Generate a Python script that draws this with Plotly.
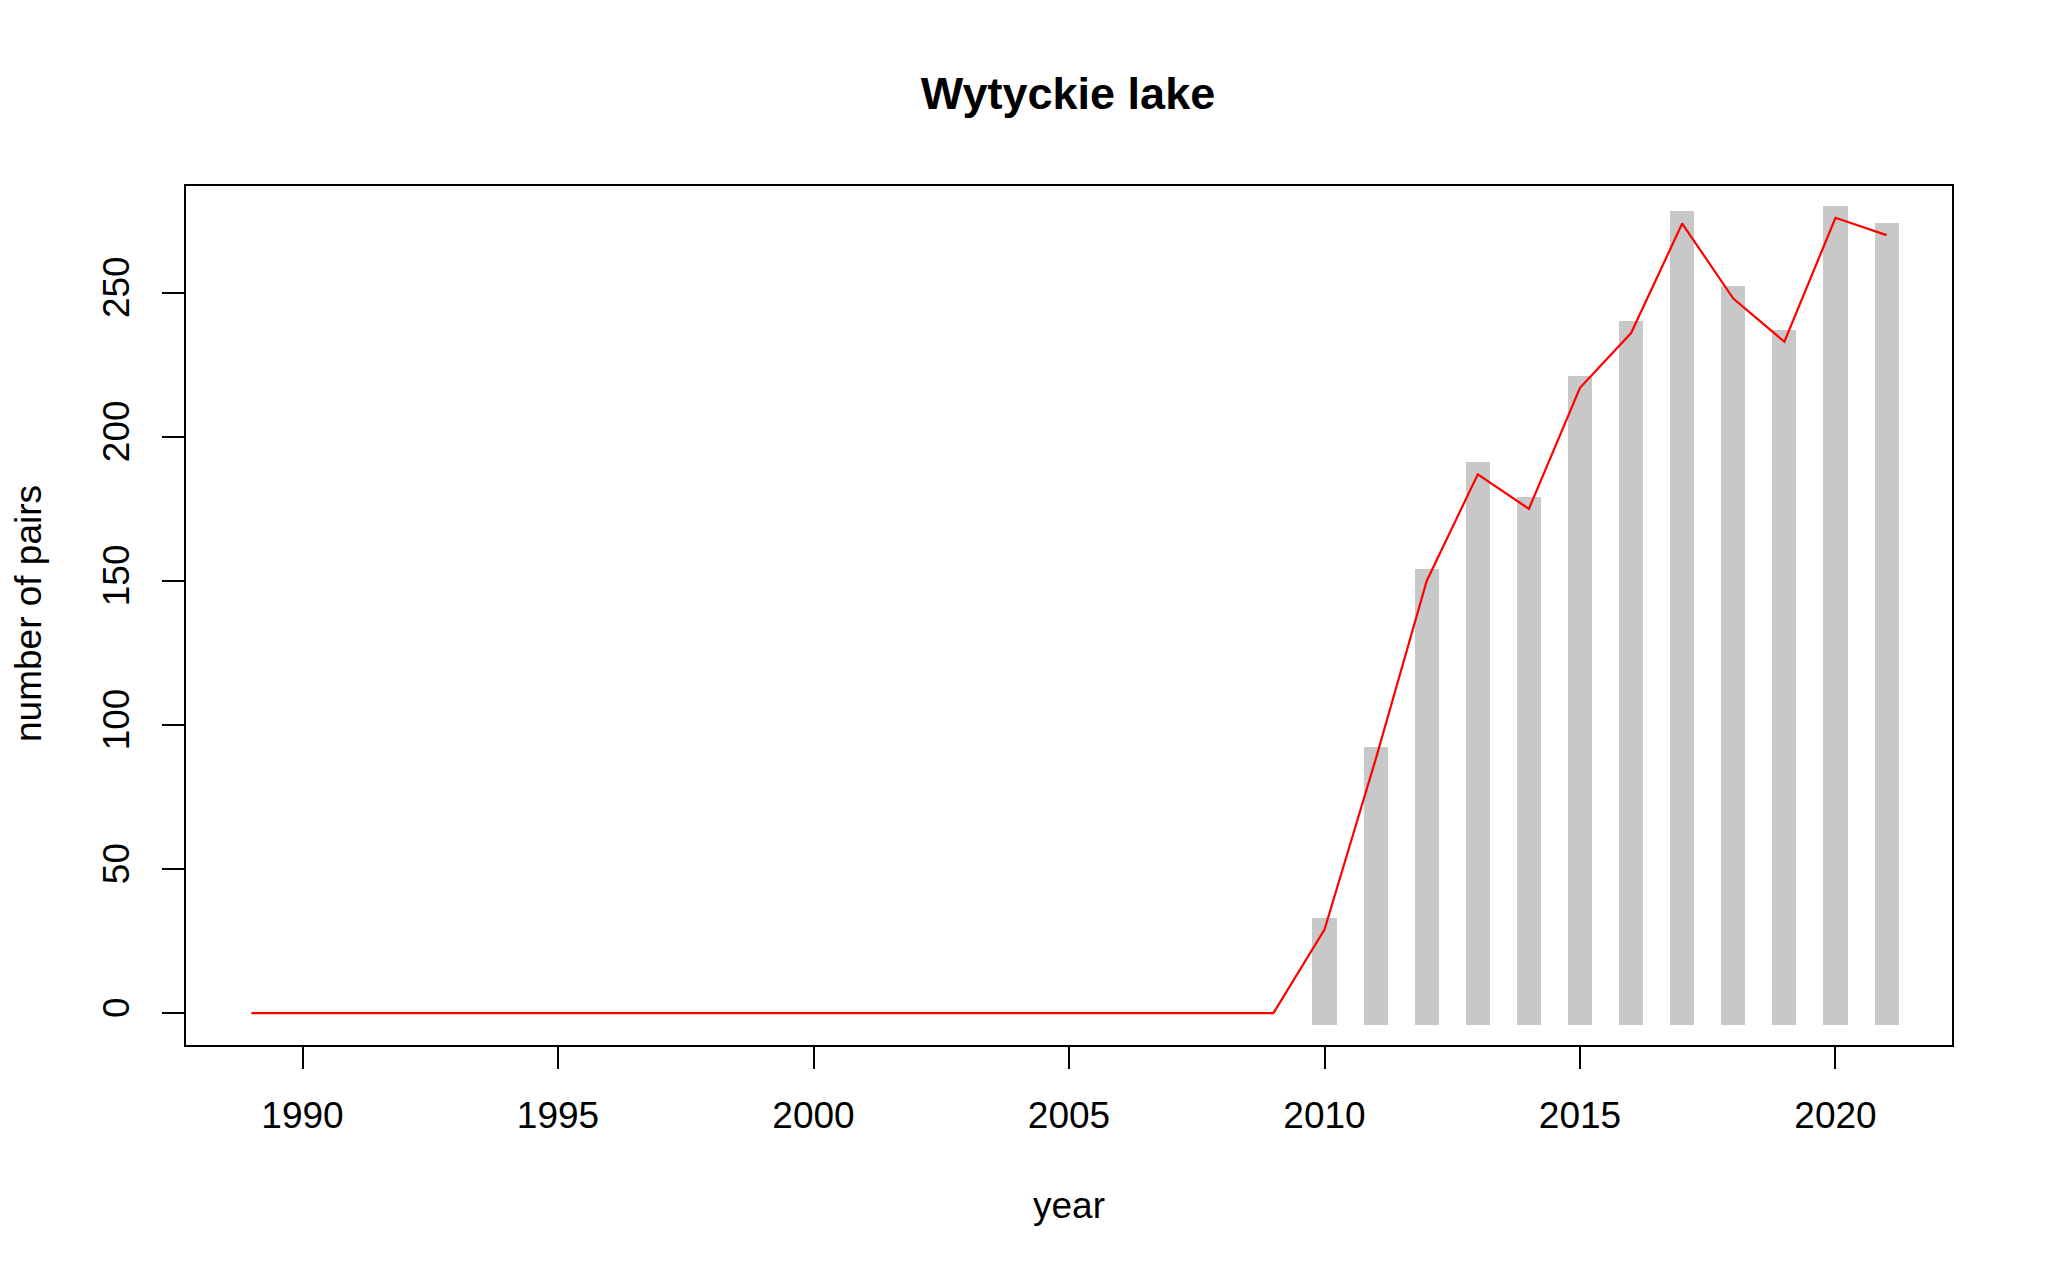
import plotly.graph_objects as go

# ---- data ----
years = list(range(1989, 2022))
pairs = [0] * 21 + [29, 88, 150, 187, 175, 217, 236, 274, 248, 233, 276, 270]
x_ticks = [1990, 1995, 2000, 2005, 2010, 2015, 2020]
y_ticks = [0, 50, 100, 150, 200, 250]
title_text = "Wytyckie lake"
x_label = "year"
y_label = "number of pairs"

# ---- style ----
PAGE_W, PAGE_H = 2048, 1278
BODY = 8                         # default browser body margin
W, H = PAGE_W - BODY, PAGE_H - BODY
# target plot box in page pixels
BOX_L, BOX_T, BOX_R, BOX_B = 186, 186, 1952, 1045
ML, MT = BOX_L - BODY, BOX_T - BODY
MR = W - ML - (BOX_R - BOX_L)
MB = H - MT - (BOX_B - BOX_T)
FONT = "Liberation Sans, Arial, Helvetica, sans-serif"
BAR_COLOR = "#C8C8C8"
BAR_WIDTH = 0.47       # in years
CAP = 4.2              # square line-end overhang (data units)
TICKLEN = 22

bar_x = [x for x, v in zip(years, pairs) if v > 0]
bar_v = [v for v in pairs if v > 0]

# R-style axis ranges (4% extension)
xmin, xmax = min(years), max(years)
ymin, ymax = min(pairs), max(pairs)
xr = [xmin - 0.04 * (xmax - xmin), xmax + 0.04 * (xmax - xmin)]
yr = [ymin - 0.04 * (ymax - ymin), ymax + 0.04 * (ymax - ymin)]

fig = go.Figure()
fig.add_trace(go.Bar(
    x=bar_x,
    y=[v + 2 * CAP for v in bar_v],
    base=[-CAP] * len(bar_v),
    width=BAR_WIDTH,
    marker=dict(color=BAR_COLOR, line=dict(width=0)),
    showlegend=False,
    hoverinfo="skip",
))
fig.add_trace(go.Scatter(
    x=years, y=pairs, mode="lines",
    line=dict(color="#FF0000", width=2.2),
    showlegend=False,
))

fig.update_layout(
    width=W, height=H,
    margin=dict(l=ML, r=MR, t=MT, b=MB),
    paper_bgcolor="white",
    plot_bgcolor="white",
    font=dict(family=FONT, size=37, color="black"),
    title=dict(
        text="<b>" + title_text + "</b>",
        x=(1068 - BODY) / W, xanchor="center",
        y=1 - (93 - BODY) / H, yanchor="middle", yref="container",
        font=dict(family=FONT, size=45, color="black"),
    ),
    xaxis=dict(
        range=xr, tickvals=x_ticks, ticktext=[str(t) for t in x_ticks],
        ticks="outside", ticklen=TICKLEN, tickwidth=2, tickcolor="black",
        showline=True, linecolor="black", linewidth=2, mirror=True,
        showgrid=False, zeroline=False,
        ticklabelstandoff=15,
        tickfont=dict(family=FONT, size=37, color="black"),
    ),
    yaxis=dict(
        range=yr, tickvals=y_ticks, ticktext=[str(t) for t in y_ticks],
        ticks="outside", ticklen=TICKLEN, tickwidth=2, tickcolor="black",
        showline=True, linecolor="black", linewidth=2, mirror=True,
        showgrid=False, zeroline=False,
        tickangle=-90,
        ticklabelstandoff=18,
        tickfont=dict(family=FONT, size=37, color="black"),
    ),
    bargap=0,
)

pw = BOX_R - BOX_L
ph = BOX_B - BOX_T
fig.add_annotation(
    text=x_label, xref="paper", yref="paper",
    x=0.5, y=-(1205 - BOX_B) / ph,
    xanchor="center", yanchor="middle", showarrow=False,
    font=dict(family=FONT, size=37, color="black"),
)
fig.add_annotation(
    text=y_label, xref="paper", yref="paper",
    x=-(BOX_L - 28) / pw, y=(BOX_B - 614) / ph,
    xanchor="center", yanchor="middle", showarrow=False, textangle=-90,
    font=dict(family=FONT, size=37, color="black"),
)

fig.write_html("out.html")
